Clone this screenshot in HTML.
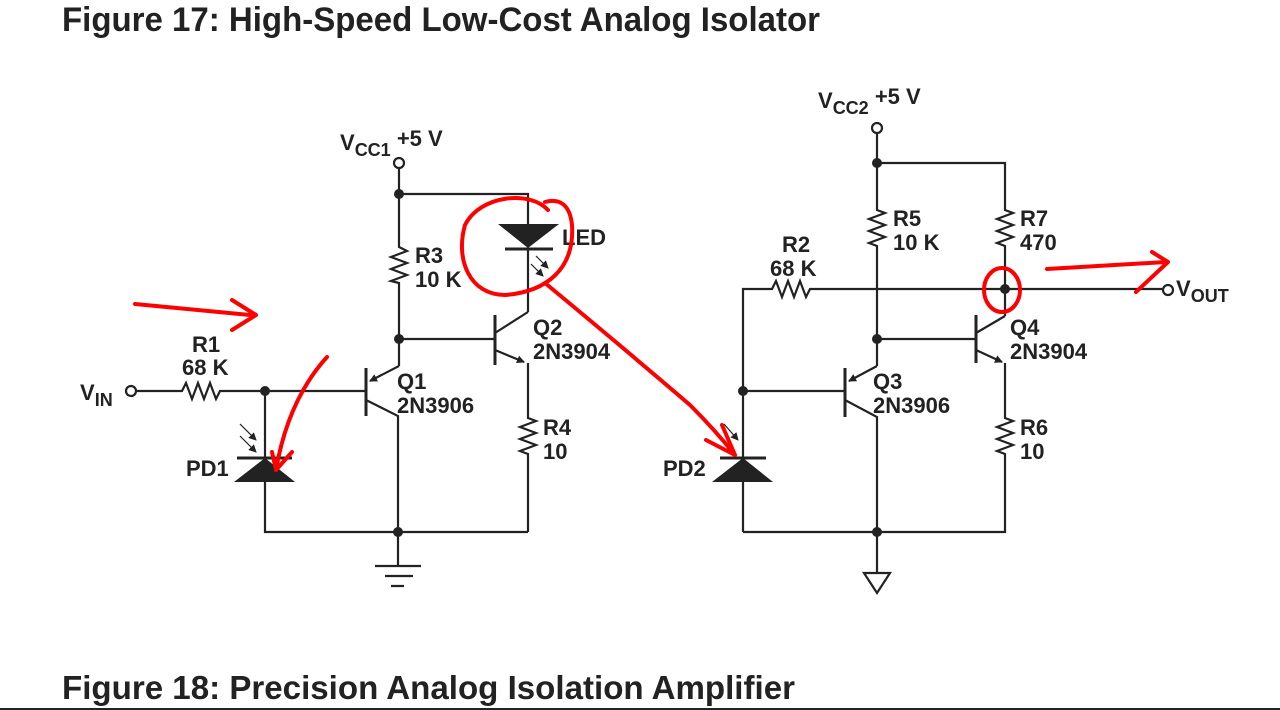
<!DOCTYPE html>
<html><head><meta charset="utf-8"><style>
html,body{margin:0;padding:0;background:#fff;width:1280px;height:710px;overflow:hidden}
svg{display:block}
text{font-family:"Liberation Sans",Arial,sans-serif;font-weight:bold;fill:#222}
</style></head><body>
<svg width="1280" height="710" viewBox="0 0 1280 710" xmlns="http://www.w3.org/2000/svg">
<defs>
<marker id="ah" markerWidth="8" markerHeight="8" refX="7" refY="4" orient="auto" markerUnits="userSpaceOnUse"><path d="M0,0 L8,4 L0,8 z" fill="#222"/></marker>
</defs>
<text x="62" y="31" font-size="34" textLength="758" lengthAdjust="spacingAndGlyphs" fill="#000">Figure 17:  High-Speed Low-Cost Analog Isolator</text>
<text x="62" y="699" font-size="33" textLength="733" lengthAdjust="spacingAndGlyphs" fill="#000">Figure 18:  Precision Analog Isolation Amplifier</text>
<line x1="0" y1="709" x2="1280" y2="709" stroke="#1a2a22" stroke-width="2"/>

<g stroke="#222" stroke-width="2.2" fill="none">
<!-- LEFT -->
<circle cx="399" cy="163" r="5" fill="#fff"/>
<path d="M399 168 V247 l8 4 -16 6 16 6 -16 6 16 6 -16 6 8 2 V366"/>
<path d="M399 194 H528 V224"/>
<path d="M528 248 V312"/>
<path d="M399 339 H495"/>
<path d="M495 315 V365" stroke-width="3"/>
<path d="M495 333 L528 312"/>
<path d="M495 350 L524 362" marker-end="url(#ah)"/>
<path d="M528 363 V418 l8 3 -16 6 16 6 -16 6 16 6 -16 6 8 3 V532"/>
<path d="M366 368 V416" stroke-width="3"/>
<path d="M399 366 L370 381" marker-end="url(#ah)"/>
<path d="M366 400 L398 416 V532"/>
<circle cx="131" cy="391" r="5" fill="#fff"/>
<path d="M136 391 H182 l4 -8 6 16 6 -16 6 16 6 -16 6 16 4 -8 H366"/>
<path d="M265 391 V458 M265 482 V532 H528"/>
<path d="M398 532 V566 M375 566 H421 M385 576 H413 M391 586 H404"/>
<path d="M536 256 L548 268" stroke-width="1.2" marker-end="url(#ah)"/>
<path d="M531 264 L543 276" stroke-width="1.2" marker-end="url(#ah)"/>
<path d="M240 424 L256 440" stroke-width="1.2" marker-end="url(#ah)"/>
<path d="M240 436 L256 452" stroke-width="1.2" marker-end="url(#ah)"/>
<path d="M237 458 H292" stroke-width="3"/>
<path d="M505 249 H553" stroke-width="3"/>
<!-- RIGHT -->
<circle cx="877" cy="128" r="5" fill="#fff"/>
<path d="M877 133 V210 l8 3 -16 6 16 6 -16 6 16 6 -16 6 8 3 V366"/>
<path d="M877 163 H1005 V210 l8 3 -16 6 16 6 -16 6 16 6 -16 6 8 3 V316"/>
<path d="M743 532 V289 H772 l4 -8 6 16 6 -16 6 16 6 -16 6 16 4 -8 H1163"/>
<circle cx="1168" cy="290" r="5" fill="#fff"/>
<path d="M877 339 H976"/>
<path d="M976 315 V363" stroke-width="3"/>
<path d="M976 333 L1005 316"/>
<path d="M976 350 L1002 362" marker-end="url(#ah)"/>
<path d="M1005 363 V418 l8 3 -16 6 16 6 -16 6 16 6 -16 6 8 3 V532 H743"/>
<path d="M743 391 H845"/>
<path d="M845 368 V417" stroke-width="3"/>
<path d="M877 366 L849 381" marker-end="url(#ah)"/>
<path d="M845 400 L877 417 V573"/>
<path d="M864 573 H890 L877 593 Z"/>
<path d="M720 458 H766" stroke-width="3"/>
<path d="M724 424 L738 440" stroke-width="1.2" marker-end="url(#ah)"/>
</g>
<g fill="#222">
<circle cx="399" cy="194" r="5"/><circle cx="399" cy="339" r="5"/><circle cx="398" cy="532" r="5"/><circle cx="265" cy="391" r="5"/>
<circle cx="877" cy="163" r="5"/><circle cx="877" cy="339" r="5"/><circle cx="877" cy="532" r="5"/><circle cx="743" cy="391" r="5"/><circle cx="1005" cy="289" r="5"/>
<path d="M498 224 H559 L528 248 Z"/>
<path d="M265 458 L295 482 H234 Z"/>
<path d="M743 458 L773 482 H712 Z"/>
</g>
<g font-size="22">
<text x="340" y="150">V<tspan font-size="18" dy="6">CC1</tspan><tspan dy="-10"> +5 V</tspan></text>
<text x="818" y="108">V<tspan font-size="18" dy="6">CC2</tspan><tspan dy="-10"> +5 V</tspan></text>
<text x="80" y="400">V<tspan font-size="18" dy="6">IN</tspan></text>
<text x="1176" y="296">V<tspan font-size="18" dy="6">OUT</tspan></text>
<text x="192" y="352">R1</text><text x="182" y="375">68 K</text>
<text x="415" y="263">R3</text><text x="415" y="287">10 K</text>
<text x="562" y="245">LED</text>
<text x="533" y="335">Q2</text><text x="533" y="359">2N3904</text>
<text x="397" y="389">Q1</text><text x="397" y="413">2N3906</text>
<text x="543" y="435">R4</text><text x="543" y="459">10</text>
<text x="186" y="476">PD1</text>
<text x="893" y="226">R5</text><text x="893" y="250">10 K</text>
<text x="1020" y="226">R7</text><text x="1020" y="250">470</text>
<text x="782" y="252">R2</text><text x="770" y="276">68 K</text>
<text x="1010" y="335">Q4</text><text x="1010" y="359">2N3904</text>
<text x="873" y="389">Q3</text><text x="873" y="413">2N3906</text>
<text x="1020" y="435">R6</text><text x="1020" y="459">10</text>
<text x="663" y="476">PD2</text>
</g>
<g stroke="#f00" stroke-width="4" fill="none" stroke-linecap="round" stroke-linejoin="round">
<path d="M135 304 L250 315 M232 300 L256 315 L232 330"/>
<path d="M327 357 Q288 400 276 470 M272 452 L276 470 L292 452"/>
<path d="M548 210 C530 190 480 195 465 225 C455 260 470 295 505 295 C545 292 575 270 572 225 C570 205 560 198 545 202"/>
<path d="M545 283 Q620 345 690 405 Q715 430 735 455 M706 440 L735 455 L722 425"/>
<ellipse cx="1002" cy="290" rx="18" ry="22"/>
<path d="M1047 269 L1166 262 M1152 252 L1168 262 L1136 292"/>
</g>
</svg>
</body></html>
